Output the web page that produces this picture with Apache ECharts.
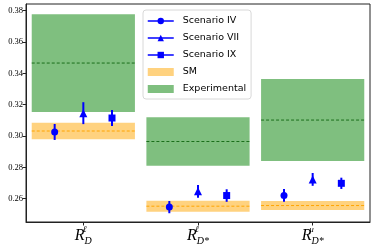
<!DOCTYPE html>
<html><head><meta charset="utf-8">
<script src="https://cdn.jsdelivr.net/npm/echarts@6/dist/echarts.min.js"></script>
<style>html,body{margin:0;padding:0;background:#fff}#c{width:374px;height:249px}</style>
</head><body><div id="c"></div>
<script>
// ---- data ----
const categorySub = ['D', 'D*', 'D*'];
const categorySup = ['ℓ', 'ℓ', 'μ'];
const smCentral = [0.3032, 0.2552, 0.2556];
const smError = [0.0052, 0.0035, 0.0029];
const expCentral = [0.3466, 0.2965, 0.3102];
const expError = [0.0312, 0.0155, 0.0262];
const scenarioIV = [0.3026, 0.2546, 0.2621];
const scenarioIVErr = [0.0051, 0.0039, 0.0040];
const scenarioVII = [0.3146, 0.2647, 0.2723];
const scenarioVIIErr = [0.0070, 0.0041, 0.0041];
const scenarioIX = [0.3115, 0.2620, 0.2698];
const scenarioIXErr = [0.0051, 0.0040, 0.0036];
const yTicks = [0.26, 0.28, 0.30, 0.32, 0.34, 0.36, 0.38];

// ---- layout constants ----
const HALF = 0.45;
const OFFSETS = [-0.25, 0, 0.25];
const BLUE = '#0000ff';

const chart = echarts.init(document.getElementById('c'), null, {renderer: 'canvas'});

function bandSeries(name, central, err, fill, dash) {
  return {
    name: name, type: 'custom', z: 2,
    itemStyle: {color: fill},
    data: central.map((c, i) => [i, c, err[i]]),
    renderItem: function (params, api) {
      const x = api.value(0), c = api.value(1), e = api.value(2);
      const p1 = api.coord([x - HALF, c + e]);
      const p2 = api.coord([x + HALF, c - e]);
      const m1 = api.coord([x - HALF, c]);
      const m2 = api.coord([x + HALF, c]);
      return {type: 'group', children: [
        {type: 'rect', shape: {x: p1[0], y: p1[1], width: p2[0] - p1[0], height: p2[1] - p1[1]}, style: {fill: fill}},
        {type: 'line', shape: {x1: m1[0], y1: m1[1], x2: m2[0], y2: m2[1]}, style: {stroke: dash, lineWidth: 1, lineDash: [3, 2]}}
      ]};
    }
  };
}

function errSeries(vals, errs, k) {
  return {
    type: 'custom', z: 3, silent: true,
    data: vals.map((v, i) => [i + OFFSETS[k], v, errs[i]]),
    renderItem: function (params, api) {
      const x = api.value(0), c = api.value(1), e = api.value(2);
      const a = api.coord([x, c + e]), b = api.coord([x, c - e]);
      return {type: 'line', shape: {x1: a[0], y1: a[1], x2: b[0], y2: b[1]}, style: {stroke: BLUE, lineWidth: 2}};
    }
  };
}

function markerSeries(name, vals, k, symbol, size) {
  return {
    name: name, type: 'line', z: 4, symbol: symbol, symbolSize: size, showSymbol: true,
    lineStyle: {width: 0, opacity: 0, color: BLUE}, itemStyle: {color: BLUE},
    data: vals.map((v, i) => [i + OFFSETS[k], v])
  };
}

const option = {
  animation: false,
  grid: {left: 26, right: 4, top: 4, bottom: 27, show: true, borderColor: '#222', borderWidth: 1, backgroundColor: 'transparent'},
  xAxis: {
    type: 'value', min: -0.5, max: 2.5,
    splitLine: {show: false},
    axisLine: {show: true, onZero: false, lineStyle: {color: '#222', width: 1}},
    axisTick: {show: true, length: 3.5, lineStyle: {color: '#222'}, customValues: [0, 1, 2]},
    axisLabel: {
      customValues: [0, 1, 2], margin: 3, color: '#000',
      formatter: function (v) {
        const i = Math.round(v);
        return '{R|R}{sup|' + categorySup[i] + '}{sub|' + categorySub[i] + '}';
      },
      rich: {
        R: {fontFamily: 'Liberation Serif', fontStyle: 'italic', fontSize: 16, verticalAlign: 'top', padding: [3, 0, 0, 0], color: '#000'},
        sup: {fontFamily: 'Liberation Serif', fontStyle: 'italic', fontSize: 9, verticalAlign: 'top', width: 0, color: '#000'},
        sub: {fontFamily: 'Liberation Serif', fontStyle: 'italic', fontSize: 10, verticalAlign: 'top', padding: [11, 0, 0, 0], color: '#000'}
      }
    }
  },
  yAxis: {
    type: 'value', min: 0.2451, max: 0.3843,
    splitLine: {show: false},
    axisLine: {show: true, onZero: false, lineStyle: {color: '#222', width: 1}},
    axisTick: {show: true, length: 3.5, lineStyle: {color: '#222'}, customValues: yTicks},
    axisLabel: {customValues: yTicks, margin: 3, color: '#000', fontFamily: 'Liberation Serif', fontSize: 8.5,
      formatter: v => v.toFixed(2)}
  },
  legend: {
    orient: 'vertical', left: 143, top: 10,
    padding: [6, 5, 5, 4], itemGap: 7, itemWidth: 26, itemHeight: 8,
    backgroundColor: '#fff', borderColor: '#d8d8d8', borderWidth: 1, borderRadius: 3,
    textStyle: {fontFamily: 'DejaVu Sans', fontSize: 9.5, color: '#000', padding: [0, 0, 0, 4]},
    lineStyle: {width: 1.5, opacity: 1, color: BLUE},
    data: [
      {name: 'Scenario IV'}, {name: 'Scenario VII'}, {name: 'Scenario IX'},
      {name: 'SM', icon: 'rect'}, {name: 'Experimental', icon: 'rect'}
    ]
  },
  series: [
    bandSeries('Experimental', expCentral, expError, 'rgba(0,128,0,0.5)', '#1a6e1a'),
    bandSeries('SM', smCentral, smError, 'rgba(255,165,0,0.5)', '#ffa500'),
    errSeries(scenarioIV, scenarioIVErr, 0),
    errSeries(scenarioVII, scenarioVIIErr, 1),
    errSeries(scenarioIX, scenarioIXErr, 2),
    markerSeries('Scenario IV', scenarioIV, 0, 'circle', 7),
    markerSeries('Scenario VII', scenarioVII, 1, 'triangle', 8),
    markerSeries('Scenario IX', scenarioIX, 2, 'rect', 7)
  ]
};
chart.setOption(option);
</script></body></html>
